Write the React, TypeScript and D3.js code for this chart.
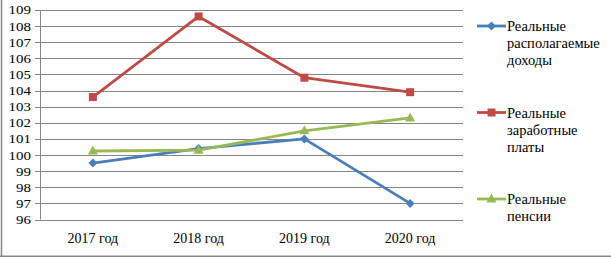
import React from "react";
import * as d3 from "d3";

const categories = ["2017 год", "2018 год", "2019 год", "2020 год"];
const incomes = [99.5, 100.4, 101.0, 97.0];
const wages = [103.6, 108.6, 104.8, 103.9];
const pensions = [100.25, 100.3, 101.5, 102.3];
const yTicks = [96, 97, 98, 99, 100, 101, 102, 103, 104, 105, 106, 107, 108, 109];
const seriesNames = [
  ["Реальные", "располагаемые", "доходы"],
  ["Реальные", "заработные", "платы"],
  ["Реальные", "пенсии"],
];

const W = 611;
const H = 257;
const left = 40;
const right = 463;
const top = 10;
const bottom = 219.5;
const font = "Liberation Serif";

const x = d3.scaleBand<string>().domain(categories).range([left, right]);
const y = d3.scaleLinear().domain([96, 109]).range([bottom, top]);

const colors = ["#4a7ebb", "#be4b48", "#98b954"];
const data = [incomes, wages, pensions];

function Marker({ kind, cx, cy, color }: { kind: number; cx: number; cy: number; color: string }) {
  if (kind === 0) {
    const s = 4.5;
    return <path d={`M${cx},${cy - s}L${cx + s},${cy}L${cx},${cy + s}L${cx - s},${cy}Z`} fill={color} />;
  }
  if (kind === 1) {
    return <rect x={cx - 4} y={cy - 4} width={8} height={8} fill={color} />;
  }
  return <path d={`M${cx},${cy - 5.5}L${cx + 5},${cy + 3.5}L${cx - 5},${cy + 3.5}Z`} fill={color} />;
}

export default function App() {
  const line = d3
    .line<number>()
    .x((_, i) => (x(categories[i]) as number) + x.bandwidth() / 2)
    .y((v) => y(v));
  const legendY = [26, 112.5, 199];
  const ts = { fontFamily: font };
  return (
    <svg width={W} height={H} style={{ position: "fixed", top: 0, left: 0, background: "#fff" }}>
      <rect x={0} y={0} width={W} height={H} fill="#fff" />
      {yTicks.map((t) => (
        <g key={t}>
          <line x1={left - 5} x2={right} y1={Math.round(y(t)) + 0.5} y2={Math.round(y(t)) + 0.5} stroke="#868686" strokeWidth={1} />
          <text x={31} y={y(t) + 4.5} textAnchor="end" style={ts} fontSize={13} fill="#000" transform={`translate(${31 * -0.15},0) scale(1.15,1)`}>
            {t}
          </text>
        </g>
      ))}
      <line x1={left + 0.5} x2={left + 0.5} y1={top} y2={bottom} stroke="#868686" strokeWidth={1} />
      {categories.map((c) => (
        <text key={c} x={(x(c) as number) + x.bandwidth() / 2} y={243} textAnchor="middle" style={ts} fontSize={14} fill="#000">
          {c}
        </text>
      ))}
      {data.map((vals, si) => (
        <g key={si}>
          <path d={line(vals) || ""} fill="none" stroke={colors[si]} strokeWidth={2.8} strokeLinejoin="round" />
          {vals.map((v, i) => (
            <Marker key={i} kind={si} cx={(x(categories[i]) as number) + x.bandwidth() / 2} cy={y(v)} color={colors[si]} />
          ))}
        </g>
      ))}
      {seriesNames.map((lines, si) => (
        <g key={si}>
          <line x1={477} x2={506} y1={legendY[si]} y2={legendY[si]} stroke={colors[si]} strokeWidth={2.8} />
          <Marker kind={si} cx={491.5} cy={legendY[si]} color={colors[si]} />
          {lines.map((l, li) => (
            <text key={li} x={507} y={legendY[si] + 5 + li * 17} style={ts} fontSize={14.5} fill="#000">
              {l}
            </text>
          ))}
        </g>
      ))}
      <line x1={1.5} x2={1.5} y1={0} y2={H} stroke="#878787" strokeWidth={1.5} />
      <line x1={0} x2={W} y1={256.2} y2={256.2} stroke="#878787" strokeWidth={1.5} />
    </svg>
  );
}
